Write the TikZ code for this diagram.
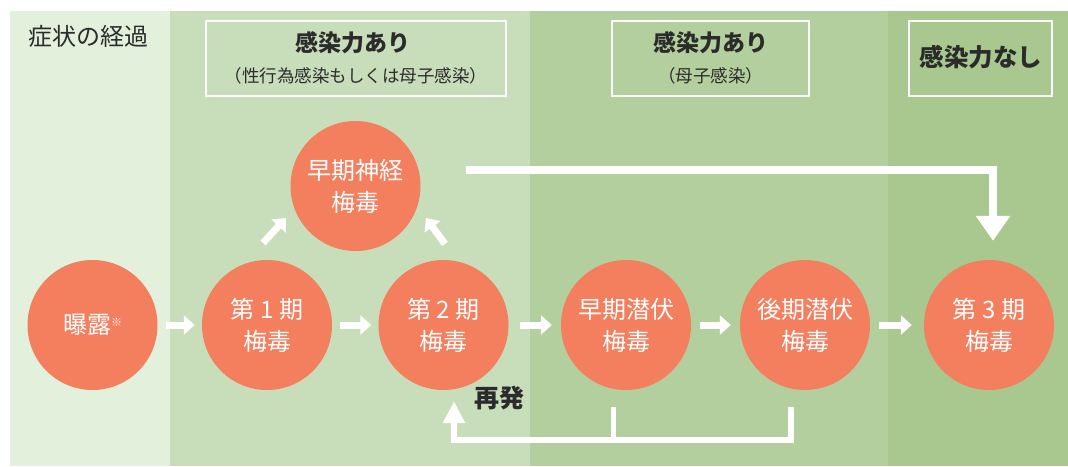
\documentclass[tikz,border=0pt]{standalone}
\usepackage{fontspec}
\setmainfont{Noto Sans CJK JP}
\usetikzlibrary{arrows.meta}
\definecolor{pA}{HTML}{E3F0DC}
\definecolor{pB}{HTML}{C8DDBA}
\definecolor{pC}{HTML}{B3CF9E}
\definecolor{pD}{HTML}{A8C890}
\definecolor{salm}{HTML}{F47F5F}
\definecolor{dark}{HTML}{2B2B2B}
\tikzset{
  stage/.style={circle, fill=salm, minimum size=130pt, inner sep=0pt, text=white, align=center, font=\fontsize{24}{32}\selectfont},
  harrow/.style={draw=white, line width=7pt, -{Triangle[width=19pt,length=11pt]}},
  bigarrow/.style={draw=white, line width=8pt, -{Triangle[width=33pt,length=25pt]}},
  looparrow/.style={draw=white, line width=6pt, -{Triangle[width=21pt,length=22pt]}},
  loopline/.style={draw=white, line width=5.5pt},
  hbox/.style={draw=white, line width=2pt, inner sep=0pt},
  htitle/.style={text=dark, font=\bfseries\fontsize{23}{23}\selectfont},
  hsub/.style={text=dark, font=\fontsize{17.5}{17.5}\selectfont},
}
\begin{document}
\begin{tikzpicture}[x=1pt,y=-1pt]
\useasboundingbox (0,0) rectangle (1068,466);
\fill[white] (0,0) rectangle (1068,466);
\fill[pA] (10,11) rectangle (170,466);
\fill[pB] (170,11) rectangle (530,466);
\fill[pC] (530,11) rectangle (888,466);
\fill[pD] (888,11) rectangle (1068,466);

\node[anchor=west, text=dark, font=\fontsize{24}{24}\selectfont] (title) at (25,36) {症状の経過};

\node[hbox, minimum width=300pt, minimum height=75pt] (b1) at (356,58.5) {};
\node[htitle] (b1t) at (353,42.5) {感染力あり};
\node[hsub] (b1s) at (356,75.5) {（性行為感染もしくは母子感染）};
\node[hbox, minimum width=197pt, minimum height=75pt] (b2) at (710.5,58.5) {};
\node[htitle] (b2t) at (710.5,42.5) {感染力あり};
\node[hsub] (b2s) at (710.5,75.5) {（母子感染）};
\node[hbox, minimum width=143pt, minimum height=75pt] (b3) at (980.5,58.5) {};
\node[htitle, font=\bfseries\fontsize{24.5}{24.5}\selectfont] (b3t) at (981,57) {感染力なし};

\node[stage] (exp) at (92.5,325) {曝露{\fontsize{11}{11}\selectfont\raisebox{7pt}{※}}};
\node[stage] (p1) at (267,325) {第 1 期\\梅毒};
\node[stage] (p2) at (443.5,325) {第 2 期\\梅毒};
\node[stage] (neuro) at (355.5,186) {早期神経\\梅毒};
\node[stage] (lat1) at (626,325) {早期潜伏\\梅毒};
\node[stage] (lat2) at (805,325) {後期潜伏\\梅毒};
\node[stage] (p3) at (989,325) {第 3 期\\梅毒};

\draw[harrow] ([xshift=8pt]exp.east) -- ([xshift=-7pt]p1.west);
\draw[harrow] ([xshift=8pt]p1.east) -- ([xshift=-7pt]p2.west);
\draw[harrow] ([xshift=11pt]p2.east) -- ([xshift=-9pt]lat1.west);
\draw[harrow] ([xshift=9pt]lat1.east) -- ([xshift=-9pt]lat2.west);
\draw[harrow] ([xshift=9pt]lat2.east) -- ([xshift=-12pt]p3.west);

\coordinate (d1s) at (263,243);
\coordinate (d1e) at (286,218);
\coordinate (d2s) at (445,244);
\coordinate (d2e) at (426,218);
\draw[harrow] (d1s) -- (d1e);
\draw[harrow] (d2s) -- (d2e);

\coordinate (t0) at (466,170);
\draw[bigarrow] (t0) -| ([xshift=4pt,yshift=19pt]p3.north);

\coordinate (r1) at (613.5,407);
\coordinate (r2) at (790.5,407);
\coordinate (rc) at (454,440);
\draw[loopline] (r1) -- (r1 |- rc);
\draw[looparrow] (r2) |- (rc) -- ([shift={(10.5pt,-11pt)}]p2.south);

\node[text=dark, font=\bfseries\fontsize{25}{25}\selectfont] (relapse) at (499,398) {再発};
\end{tikzpicture}
\end{document}
